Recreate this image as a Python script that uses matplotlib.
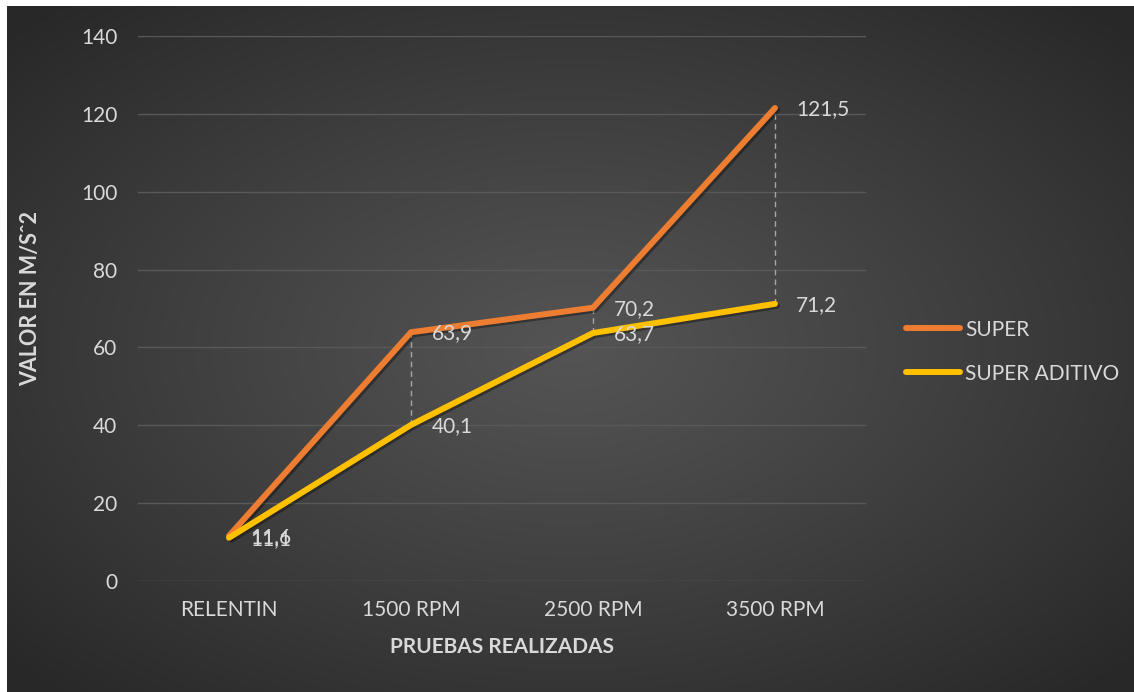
import numpy as np
import matplotlib
matplotlib.use("Agg")
import matplotlib.pyplot as plt
import matplotlib.patheffects as pe
from matplotlib.lines import Line2D

plt.rcParams['font.family'] = ['Lato', 'DejaVu Sans']

categories = ["RELENTIN", "1500 RPM", "2500 RPM", "3500 RPM"]
super_vals = [11.6, 63.9, 70.2, 121.5]
aditivo_vals = [11.1, 40.1, 63.7, 71.2]
series_names = ["SUPER", "SUPER ADITIVO"]
yticks = [0, 20, 40, 60, 80, 100, 120, 140]

ORANGE = "#ED7D31"
YELLOW = "#FFC000"
TEXT = "#D9D9D9"
FS = 15

W, H = 1134, 692
fig = plt.figure(figsize=(W / 100, H / 100), dpi=100, facecolor="white")

# radial-gradient chart background
bg = fig.add_axes([7 / W, 0, 1 - 7 / W, (H - 6) / H])
bg.set_axis_off()
gx, gy = np.meshgrid(np.linspace(-1, 1, 600), np.linspace(-1, 1, 400))
r = np.sqrt((gx * 0.95) ** 2 + (gy * 0.95) ** 2)
r = np.clip(r / 1.3, 0, 1)
c0, c1 = 0x54 / 255, 0x28 / 255
shade = c0 + (c1 - c0) * r ** 1.1
img = np.dstack([shade, shade, shade])
bg.imshow(img, extent=[0, 1, 0, 1], aspect="auto", interpolation="bilinear")
bg.set_xlim(0, 1)
bg.set_ylim(0, 1)

ax = fig.add_axes([138 / W, 111 / H, 728 / W, 545 / H])
ax.patch.set_alpha(0)
x = np.arange(len(categories))
ax.set_xlim(-0.5, len(categories) - 0.5)
ax.set_ylim(0, 140)
ax.set_yticks(yticks)
ax.grid(axis="y", color="#595959", lw=1)
ax.set_axisbelow(True)
for s in ax.spines.values():
    s.set_visible(False)
ax.tick_params(length=0, colors=TEXT, labelsize=FS)
ax.tick_params(axis="y", pad=15)
ax.tick_params(axis="x", pad=14)
ax.set_xticks(x)
ax.set_xticklabels(categories)

# high-low drop lines between the two series
for xi, a, b in zip(x, super_vals, aditivo_vals):
    ax.plot([xi, xi], [min(a, b), max(a, b)], color="#A6A6A6", lw=1,
            ls=(0, (4, 3)), zorder=2)

shadow = [pe.SimpleLineShadow(offset=(1.5, -1.5), shadow_color="black", alpha=0.35),
          pe.Normal()]
ax.plot(x, super_vals, color=ORANGE, lw=4.3, solid_capstyle="round",
        solid_joinstyle="round", zorder=3, path_effects=shadow)
ax.plot(x, aditivo_vals, color=YELLOW, lw=4.3, solid_capstyle="round",
        solid_joinstyle="round", zorder=4, path_effects=shadow)

for vals in (super_vals, aditivo_vals):
    for xi, v in zip(x, vals):
        ax.annotate(f"{v:.1f}".replace(".", ","), (xi, v), xytext=(21, -1),
                    textcoords="offset pixels", ha="left", va="center",
                    color=TEXT, fontsize=FS, zorder=5)

ax.set_xlabel("PRUEBAS REALIZADAS", color=TEXT, fontsize=FS,
              fontweight="bold", labelpad=12)
fig.text(31 / W, 1 - 298 / H, "VALOR EN M/Sˆ2", rotation=90,
         ha="center", va="center", color=TEXT, fontsize=15.5, fontweight="bold")

handles = [Line2D([], [], color=ORANGE, lw=4.3, solid_capstyle="round"),
           Line2D([], [], color=YELLOW, lw=4.3, solid_capstyle="round")]
fig.legend(handles, series_names, loc="upper left",
           bbox_to_anchor=(887 / W, 1 - 301 / H), frameon=False,
           labelcolor=TEXT, fontsize=FS, handlelength=2.6, handletextpad=0.25,
           labelspacing=1.15)

fig.savefig("out.png", dpi=100, facecolor="white")
